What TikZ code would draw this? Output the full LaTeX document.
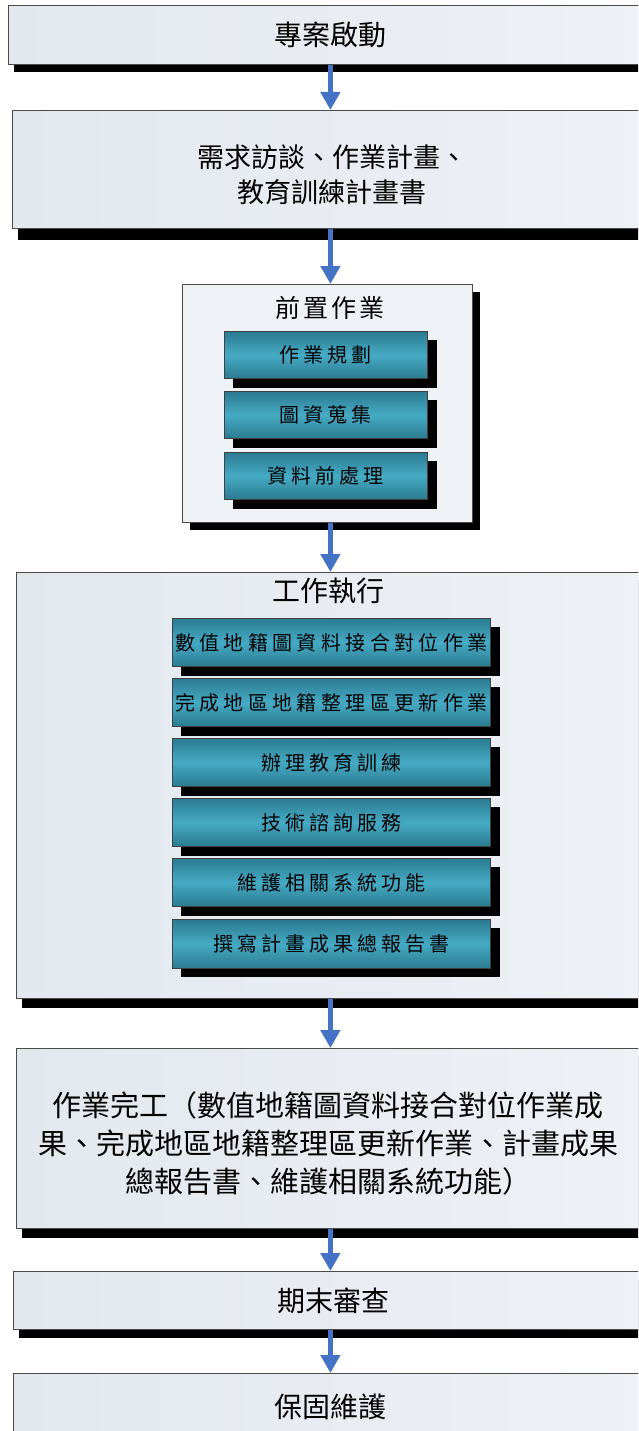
\documentclass[tikz,border=0pt]{standalone}
\usepackage{fontspec}
\newfontfamily\cjk{Noto Sans CJK TC}
\newfontfamily\cjksp[LetterSpace=20]{Noto Sans CJK TC}
\newfontfamily\cjkti[LetterSpace=12]{Noto Sans CJK TC}
\usetikzlibrary{arrows.meta}
\definecolor{boxleft}{HTML}{E3E8EF}
\definecolor{boxright}{HTML}{EEF1F6}
\definecolor{boxline}{HTML}{4A4A4A}
\definecolor{subedge}{HTML}{2A7B91}
\definecolor{submid}{HTML}{46AAC4}
\definecolor{arrowblue}{HTML}{4472C4}
\tikzset{
  bigbox/.style={draw=boxline,line width=0.8pt,left color=boxleft,right color=boxright,
    inner sep=0pt,anchor=north west,font=\cjk\fontsize{28}{34}\selectfont},
  subbox/.style={draw=black!75,line width=0.8pt,top color=subedge,bottom color=subedge,
    middle color=submid,inner sep=0pt,anchor=north west,
    font=\cjksp\fontsize{20}{24}\selectfont},
  drop/.style={fill=black},
  flow/.style={draw=arrowblue,line width=4.5pt,-{Triangle[length=18pt,width=19pt]}},
}
\begin{document}
\begin{tikzpicture}[x=1pt,y=-1pt]
\useasboundingbox (0,0) rectangle (638,1431);
\clip (0,0) rectangle (638,1431);
\fill[white] (0,0) rectangle (638,1431);
% shadows of big boxes
\fill[drop] (14,64) rectangle (660,72);
\fill[drop] (18,228) rectangle (660,240);
\fill[drop] (190,292) rectangle (480,530);
\fill[drop] (22,580) rectangle (660,1008);
\fill[drop] (22,1056) rectangle (660,1238);
\fill[drop] (19,1280) rectangle (660,1338);
% big boxes
\node[bigbox,minimum width=644pt,minimum height=59pt] (b1) at (8,5) {專案啟動};
\node[bigbox,minimum width=640pt,minimum height=118pt] (b2) at (12,110) {};
\node[font=\cjk\fontsize{27}{35}\selectfont,align=center] (b2t) at (332,175)
  {需求訪談、作業計畫、\\教育訓練計畫書};
\node[bigbox,minimum width=290pt,minimum height=238pt,left color=boxleft!60!white,right color=boxright] (b3) at (182,284) {};
\node[font=\cjkti\fontsize{25}{30}\selectfont] (b3t) at (330,308) {前置作業};
\node[bigbox,minimum width=636pt,minimum height=426pt] (b4) at (16,572) {};
\node[font=\cjk\fontsize{28}{34}\selectfont] (b4t) at (328,591) {工作執行};
\node[bigbox,minimum width=636pt,minimum height=180pt] (b5) at (16,1048) {};
\node[font=\cjk\fontsize{29}{38}\selectfont,align=center] (b5t) at (328,1143)
  {作業完工（數值地籍圖資料接合對位作業成\\果、完成地區地籍整理區更新作業、計畫成果\\總報告書、維護相關系統功能）};
\node[bigbox,minimum width=640pt,minimum height=58pt] (b6) at (13,1271) {期末審查};
\node[bigbox,minimum width=640pt,minimum height=90pt,text depth=0pt] (b7) at (13,1373) {};
\node[font=\cjk\fontsize{28}{34}\selectfont] (b7t) at (330,1407) {保固維護};
% sub boxes of 前置作業
\foreach \y in {331,391,452}{\fill[drop] (233,\y+9) rectangle (437,\y+57);}
\node[subbox,minimum width=203pt,minimum height=47pt] (p1) at (224,331) {作業規劃};
\node[subbox,minimum width=203pt,minimum height=47pt] (p2) at (224,391) {圖資蒐集};
\node[subbox,minimum width=203pt,minimum height=47pt] (p3) at (224,452) {資料前處理};
% sub boxes of 工作執行
\foreach \y in {618,678,738,798,858,919}{\fill[drop] (181,\y+9) rectangle (500,\y+58);}
\node[subbox,minimum width=318pt,minimum height=48pt,font=\cjk\fontsize{20}{24}\selectfont\addfontfeature{LetterSpace=22}] (w1) at (172,618) {數值地籍圖資料接合對位作業};
\node[subbox,minimum width=318pt,minimum height=48pt,font=\cjk\fontsize{20}{24}\selectfont\addfontfeature{LetterSpace=22}] (w2) at (172,678) {完成地區地籍整理區更新作業};
\node[subbox,minimum width=318pt,minimum height=48pt] (w3) at (172,738) {辦理教育訓練};
\node[subbox,minimum width=318pt,minimum height=48pt] (w4) at (172,798) {技術諮詢服務};
\node[subbox,minimum width=318pt,minimum height=48pt] (w5) at (172,858) {維護相關系統功能};
\node[subbox,minimum width=318pt,minimum height=49pt] (w6) at (172,919) {撰寫計畫成果總報告書};
% arrows
\draw[flow] (b1.south) -- (b1.south |- b2.north);
\draw[flow] (b2.south -| b1.south) -- (b1.south |- b3.north);
\draw[flow] (b3.south -| b1.south) -- (b1.south |- b4.north);
\draw[flow] (b4.south -| b1.south) -- (b1.south |- b5.north);
\draw[flow] (b5.south -| b1.south) -- (b1.south |- b6.north);
\draw[flow] (b6.south -| b1.south) -- (b1.south |- b7.north);
\end{tikzpicture}
\end{document}
